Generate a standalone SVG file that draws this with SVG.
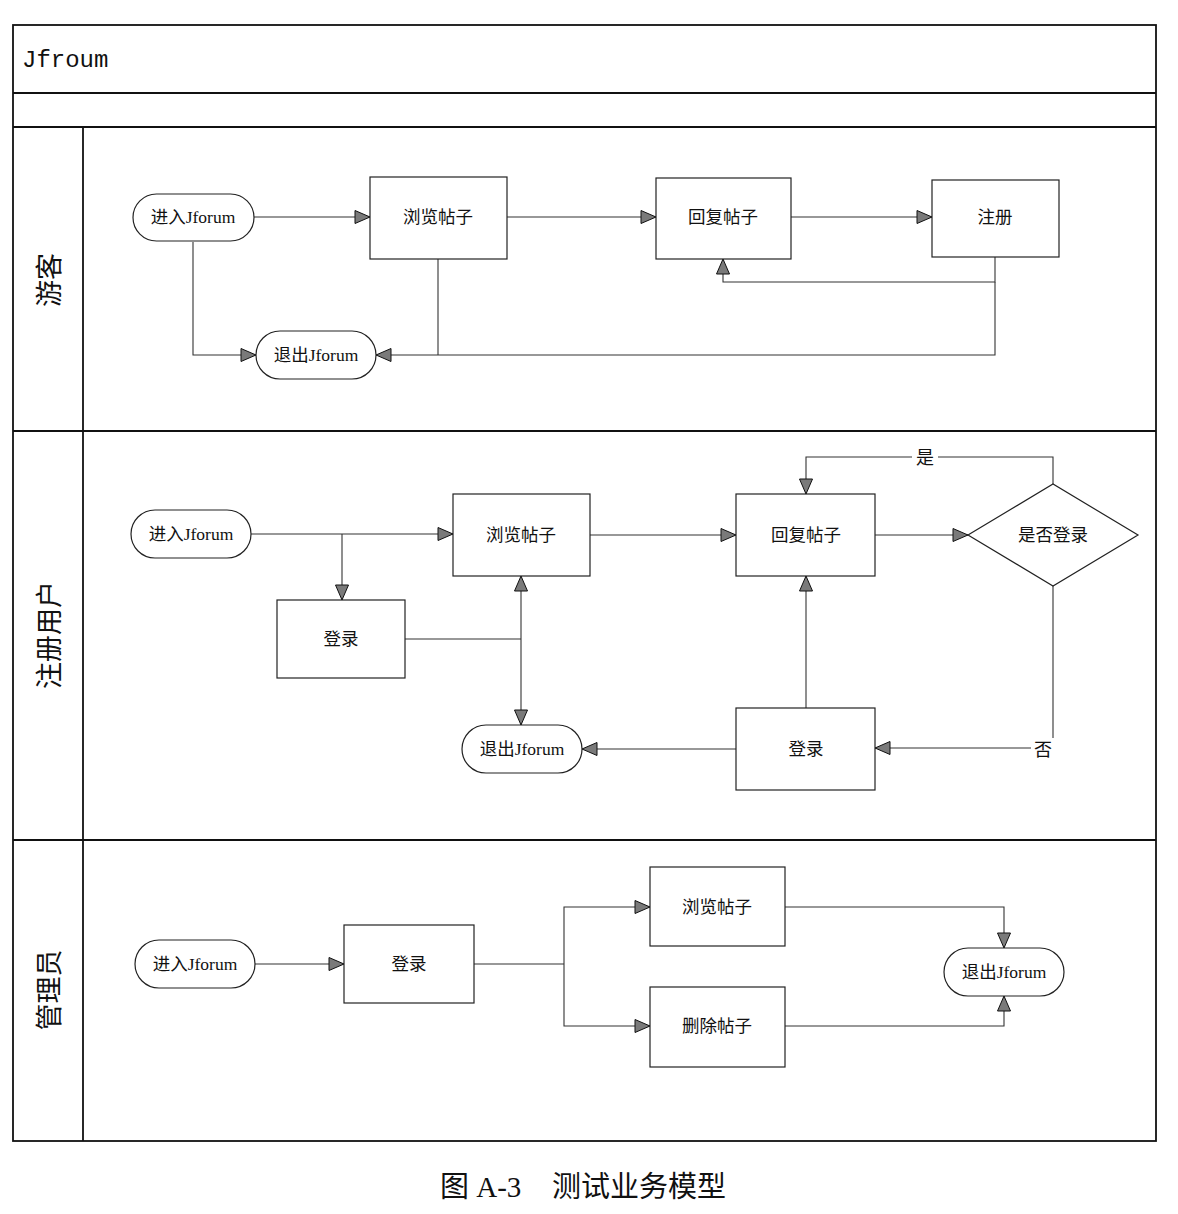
<svg xmlns="http://www.w3.org/2000/svg" width="1178" height="1214" viewBox="0 0 1178 1214">
<style>
.frame{fill:none;stroke:#111;stroke-width:1.8}
.node{fill:#fff;stroke:#222;stroke-width:1.2}
.c{fill:none;stroke:#333;stroke-width:1.1}
.t{font-family:"Liberation Serif","Noto Sans CJK SC",serif;font-size:17.5px;fill:#111;text-anchor:middle;dominant-baseline:central}
.lane{font-family:"Noto Sans CJK SC",sans-serif;font-size:27px;fill:#111;text-anchor:middle;dominant-baseline:central}
.lbl{font-family:"Noto Sans CJK SC",sans-serif;font-size:18px;fill:#111;text-anchor:middle;dominant-baseline:central}
.cap{font-family:"Liberation Serif","Noto Sans CJK SC",serif;font-size:29px;fill:#111;dominant-baseline:central}
</style>
<defs>
<marker id="a" markerUnits="userSpaceOnUse" markerWidth="18" markerHeight="16" refX="16" refY="7.5" orient="auto">
<path d="M1,1 L16,7.5 L1,14 z" fill="#7a7a7a" stroke="#111" stroke-width="1"/>
</marker>
</defs>
<rect width="1178" height="1214" fill="#fff"/>
<g id="frame">
<rect class="frame" x="13" y="25" width="1143" height="1116"/>
<line class="frame" x1="13" y1="93" x2="1156" y2="93"/>
<line class="frame" x1="13" y1="127" x2="1156" y2="127"/>
<line class="frame" x1="13" y1="431" x2="1156" y2="431"/>
<line class="frame" x1="13" y1="840" x2="1156" y2="840"/>
<line class="frame" x1="83" y1="127" x2="83" y2="1141"/>
<text x="22" y="60" font-family="Liberation Mono,monospace" font-size="24" fill="#111" dominant-baseline="central">Jfroum</text>
<text class="lane" transform="translate(47,280) rotate(-90)">游客</text>
<text class="lane" transform="translate(47,635) rotate(-90)">注册用户</text>
<text class="lane" transform="translate(47,990) rotate(-90)">管理员</text>
</g>
<g id="connectors">
<line class="c" x1="254" y1="217" x2="370" y2="217" marker-end="url(#a)"/>
<line class="c" x1="507" y1="217" x2="656" y2="217" marker-end="url(#a)"/>
<line class="c" x1="791" y1="217" x2="932" y2="217" marker-end="url(#a)"/>
<polyline class="c" points="995,257 995,282 723,282 723,259" marker-end="url(#a)"/>
<polyline class="c" points="995,282 995,355 376,355" marker-end="url(#a)"/>
<line class="c" x1="438" y1="259" x2="438" y2="355"/>
<polyline class="c" points="193,242 193,355 256,355" marker-end="url(#a)"/>
<line class="c" x1="251" y1="534" x2="453" y2="534" marker-end="url(#a)"/>
<line class="c" x1="342" y1="534" x2="342" y2="600" marker-end="url(#a)"/>
<line class="c" x1="590" y1="535" x2="736" y2="535" marker-end="url(#a)"/>
<line class="c" x1="875" y1="535" x2="968" y2="535" marker-end="url(#a)"/>
<line class="c" x1="405" y1="639" x2="521" y2="639"/>
<line class="c" x1="521" y1="639" x2="521" y2="576" marker-end="url(#a)"/>
<line class="c" x1="521" y1="639" x2="521" y2="725" marker-end="url(#a)"/>
<polyline class="c" points="1053,484 1053,457 806,457 806,494" marker-end="url(#a)"/>
<polyline class="c" points="1053,586 1053,748 875,748" marker-end="url(#a)"/>
<line class="c" x1="806" y1="708" x2="806" y2="576" marker-end="url(#a)"/>
<line class="c" x1="736" y1="749" x2="582" y2="749" marker-end="url(#a)"/>
<rect x="912" y="447" width="26" height="20" fill="#fff"/>
<text class="lbl" x="925" y="456">是</text>
<rect x="1031" y="738" width="24" height="20" fill="#fff"/>
<text class="lbl" x="1043" y="748">否</text>
<line class="c" x1="255" y1="964" x2="344" y2="964" marker-end="url(#a)"/>
<line class="c" x1="474" y1="964" x2="564" y2="964"/>
<polyline class="c" points="564,964 564,907 650,907" marker-end="url(#a)"/>
<polyline class="c" points="564,964 564,1026 650,1026" marker-end="url(#a)"/>
<polyline class="c" points="785,907 1004,907 1004,948" marker-end="url(#a)"/>
<polyline class="c" points="785,1026 1004,1026 1004,996" marker-end="url(#a)"/>
</g>
<g id="g1-enter"><rect class="node" x="133" y="194" width="121" height="47" rx="23.5"/><text class="t" x="193" y="217">进入Jforum</text></g>
<g id="g1-browse"><rect class="node" x="370" y="177" width="137" height="82"/><text class="t" x="438" y="217">浏览帖子</text></g>
<g id="g1-reply"><rect class="node" x="656" y="178" width="135" height="81"/><text class="t" x="723" y="217">回复帖子</text></g>
<g id="g1-register"><rect class="node" x="932" y="180" width="127" height="77"/><text class="t" x="995" y="217">注册</text></g>
<g id="g1-exit"><rect class="node" x="256" y="331" width="120" height="48" rx="24"/><text class="t" x="316" y="355">退出Jforum</text></g>
<g id="g2-enter"><rect class="node" x="131" y="510" width="120" height="48" rx="24"/><text class="t" x="191" y="534">进入Jforum</text></g>
<g id="g2-browse"><rect class="node" x="453" y="494" width="137" height="82"/><text class="t" x="521" y="535">浏览帖子</text></g>
<g id="g2-reply"><rect class="node" x="736" y="494" width="139" height="82"/><text class="t" x="806" y="535">回复帖子</text></g>
<g id="g2-decide"><polygon class="node" points="968,535 1053,484 1138,535 1053,586"/><text class="t" x="1053" y="535">是否登录</text></g>
<g id="g2-login1"><rect class="node" x="277" y="600" width="128" height="78"/><text class="t" x="341" y="639">登录</text></g>
<g id="g2-exit"><rect class="node" x="462" y="725" width="120" height="48" rx="24"/><text class="t" x="522" y="749">退出Jforum</text></g>
<g id="g2-login2"><rect class="node" x="736" y="708" width="139" height="82"/><text class="t" x="806" y="749">登录</text></g>
<g id="g3-enter"><rect class="node" x="135" y="940" width="120" height="48" rx="24"/><text class="t" x="195" y="964">进入Jforum</text></g>
<g id="g3-login"><rect class="node" x="344" y="925" width="130" height="78"/><text class="t" x="409" y="964">登录</text></g>
<g id="g3-browse"><rect class="node" x="650" y="867" width="135" height="79"/><text class="t" x="717" y="907">浏览帖子</text></g>
<g id="g3-delete"><rect class="node" x="650" y="987" width="135" height="80"/><text class="t" x="717" y="1026">删除帖子</text></g>
<g id="g3-exit"><rect class="node" x="944" y="948" width="120" height="48" rx="24"/><text class="t" x="1004" y="972">退出Jforum</text></g>
<g id="caption">
<text class="cap" x="440" y="1187">图 A-3</text>
<text class="cap" x="552" y="1187">测试业务模型</text>
</g>
</svg>
